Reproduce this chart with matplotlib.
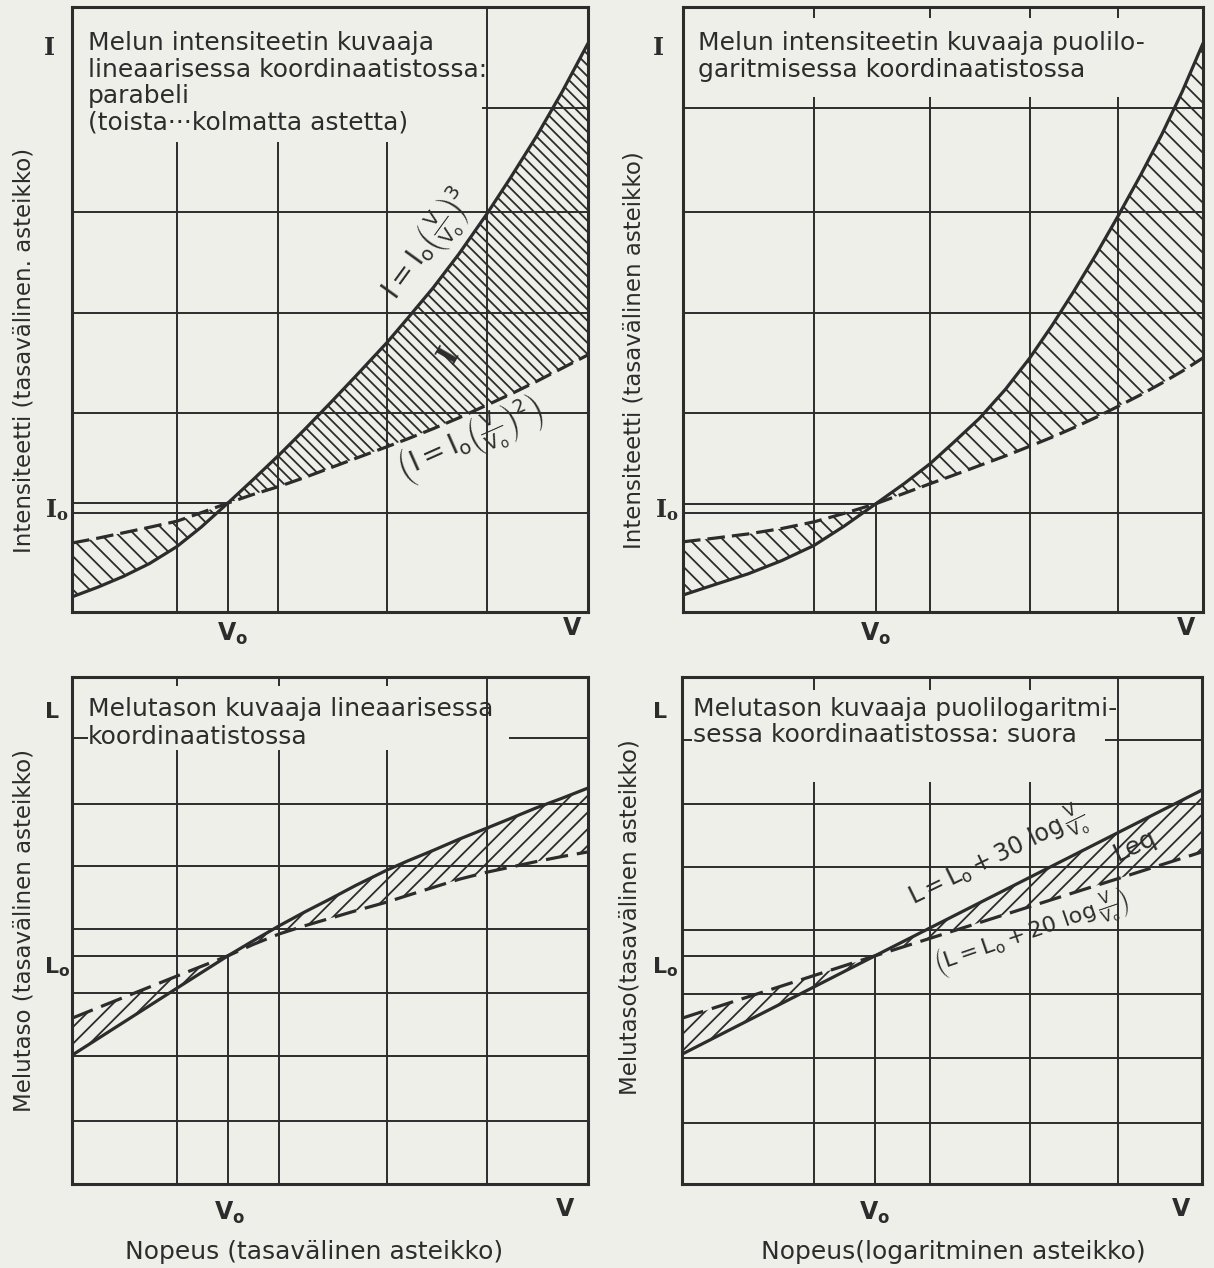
import numpy as np
import matplotlib
matplotlib.use("Agg")
import matplotlib.pyplot as plt

plt.rcParams["font.family"] = ["DejaVu Sans"]
plt.rcParams["mathtext.default"] = "regular"
plt.rcParams["hatch.linewidth"] = 1.3

INK = "#2c2c2c"
PAPER = "#efefea"
W, H = 1214, 1268

# every panel runs 0..10 on both axes
# top-left: intensity on linear axes
tl_x = [0, 0.5, 1, 1.5, 2.03, 2.5, 3.02, 3.5, 4.03, 4.5, 5, 5.5, 6.1, 6.5, 7, 7.5,
        8.04, 8.5, 9, 9.5, 10]
tl_cube = [0.25, 0.41, 0.59, 0.80, 1.08, 1.40, 1.80, 2.18, 2.61, 3.01, 3.45, 3.90,
           4.45, 4.85, 5.36, 5.92, 6.58, 7.18, 7.86, 8.60, 9.40]
tl_square = [1.14, 1.22, 1.31, 1.40, 1.50, 1.64, 1.80, 1.94, 2.08, 2.22, 2.38, 2.54,
             2.73, 2.86, 3.03, 3.21, 3.42, 3.60, 3.81, 4.03, 4.25]

# top-right: intensity, speed on log axis
tr_x = [0, 0.6, 1.25, 1.9, 2.52, 3.1, 3.71, 4.25, 4.75, 5.2, 5.7, 6.2, 6.67, 7.1,
        7.5, 7.95, 8.37, 8.8, 9.2, 9.6, 10]
tr_cube = [0.28, 0.45, 0.63, 0.85, 1.10, 1.42, 1.79, 2.12, 2.45, 2.80, 3.20, 3.68,
           4.20, 4.74, 5.28, 5.92, 6.55, 7.22, 7.88, 8.60, 9.40]
tr_square = [1.16, 1.22, 1.29, 1.38, 1.49, 1.63, 1.79, 1.96, 2.12, 2.26, 2.42, 2.58,
             2.74, 2.89, 3.04, 3.22, 3.40, 3.59, 3.78, 3.98, 4.20]

# bottom-left: level on linear axes
bl_x = [0, 1, 2.03, 3.02, 3.5, 4.01, 4.5, 5, 5.5, 6.1, 6.5, 7, 7.5, 8.04, 8.5, 9, 9.5, 10]
bl_30log = [2.54, 3.19, 3.86, 4.50, 4.79, 5.09, 5.36, 5.62, 5.89, 6.19, 6.37, 6.58,
            6.80, 7.02, 7.21, 7.42, 7.61, 7.81]
bl_20log = [3.27, 3.68, 4.10, 4.50, 4.72, 4.93, 5.09, 5.24, 5.39, 5.56, 5.69, 5.85,
            6.01, 6.15, 6.25, 6.36, 6.46, 6.55]

# bottom-right: level, speed on log axis (straight lines)
br_x = [0, 3.71, 10]
br_30log = [2.56, 4.50, 7.77]
br_20log = [3.27, 4.50, 6.55]

# reference marks (V0, I0 / L0)
tl_ref = (3.02, 1.80)
tr_ref = (3.71, 1.79)
bl_ref = (3.02, 4.50)
br_ref = (3.71, 4.50)

fig = plt.figure(figsize=(W / 100, H / 100), dpi=100)
fig.patch.set_facecolor(PAPER)


def panel(left, top, right, bottom):
    ax = fig.add_axes([left / W, 1 - bottom / H, (right - left) / W, (bottom - top) / H])
    ax.set_xlim(0, 10)
    ax.set_ylim(0, 10)
    ax.set_xticks([])
    ax.set_yticks([])
    ax.set_facecolor(PAPER)
    for s in ax.spines.values():
        s.set_linewidth(2.2)
        s.set_color(INK)
    return ax


def vline(ax, x, y0, y1):
    ax.plot([x, x], [y0, y1], color=INK, lw=1.4, solid_capstyle="butt")


def hline(ax, y, x0, x1):
    ax.plot([x0, x1], [y, y], color=INK, lw=1.4, solid_capstyle="butt")


def curves(ax, x, solid, dashed, ref_x, hatch_left, hatch_right, dash):
    xa = np.asarray(x)
    ax.fill_between(xa, solid, dashed, where=xa <= ref_x, facecolor="none",
                    edgecolor=INK, linewidth=0, hatch=hatch_left)
    ax.fill_between(xa, solid, dashed, where=xa >= ref_x, facecolor="none",
                    edgecolor=INK, linewidth=0, hatch=hatch_right)
    ax.plot(x, solid, color=INK, lw=2.3, solid_capstyle="round")
    ax.plot(x, dashed, color=INK, lw=2.3, linestyle=(0, dash))


def ref_mark(ax, ref):
    hline(ax, ref[1], 0, ref[0])
    vline(ax, ref[0], 0, ref[1])


def title(ax, lines, x, ys, size=18):
    for s, y in zip(lines, ys):
        ax.text(x, y, s, fontsize=size, color=INK, ha="left", va="baseline")


def ftext(px, py, s, **kw):
    kw.setdefault("color", INK)
    kw.setdefault("ha", "center")
    kw.setdefault("va", "center")
    fig.text(px / W, 1 - py / H, s, **kw)


# ---- top-left
ax = panel(72, 7, 588, 612)
for x in [2.03, 3.99, 6.10]:
    vline(ax, x, 0, 7.77)
vline(ax, 8.04, 0, 10)
for y in [1.64, 3.29, 4.94, 6.61]:
    hline(ax, y, 0, 10)
hline(ax, 8.33, 7.95, 10)
ref_mark(ax, tl_ref)
curves(ax, tl_x, tl_cube, tl_square, tl_ref[0], "\\\\", "\\\\\\", (5.5, 2.2))
title(ax, ["Melun intensiteetin kuvaaja", "lineaarisessa koordinaatistossa:",
           "parabeli", "(toista\u00b7\u00b7\u00b7kolmatta astetta)"],
      0.31, [9.29, 8.84, 8.41, 7.97])

# ---- top-right
ax = panel(683, 7, 1203, 612)
for x in [2.52, 4.75, 6.67, 8.37]:
    vline(ax, x, 0, 8.51)
    vline(ax, x, 9.82, 10)
for y in [1.64, 3.29, 4.94, 6.61, 8.33]:
    hline(ax, y, 0, 10)
ref_mark(ax, tr_ref)
curves(ax, tr_x, tr_cube, tr_square, tr_ref[0], "\\\\", "\\\\", (5.5, 2.2))
title(ax, ["Melun intensiteetin kuvaaja puolilo-", "garitmisessa koordinaatistossa"],
      0.28, [9.29, 8.84])

# ---- bottom-left
ax = panel(72, 677, 588, 1184)
for x in [2.03, 4.01, 6.10]:
    vline(ax, x, 0, 8.56)
    vline(ax, x, 9.82, 10)
vline(ax, 8.04, 0, 10)
for y in [1.24, 2.52, 3.77, 5.03, 6.27, 7.50]:
    hline(ax, y, 0, 10)
hline(ax, 8.80, 0, 0.31)
hline(ax, 8.80, 8.47, 10)
ref_mark(ax, bl_ref)
curves(ax, bl_x, bl_30log, bl_20log, bl_ref[0], "//", "//", (7, 2.8))
title(ax, ["Melutason kuvaaja lineaarisessa", "koordinaatistossa"], 0.31, [9.23, 8.68])

# ---- bottom-right
ax = panel(682, 677, 1202, 1184)
for x in [2.54, 4.77, 6.69]:
    vline(ax, x, 0, 7.93)
    vline(ax, x, 9.74, 10)
vline(ax, 8.38, 0, 10)
for y in [1.20, 2.49, 3.75, 5.01, 6.25, 7.50]:
    hline(ax, y, 0, 10)
hline(ax, 8.76, 0, 0.2)
hline(ax, 8.76, 8.13, 10)
ref_mark(ax, br_ref)
curves(ax, br_x, br_30log, br_20log, br_ref[0], "//", "//", (7, 2.8))
title(ax, ["Melutason kuvaaja puolilogaritmi-", "sessa koordinaatistossa: suora"],
      0.21, [9.23, 8.72])

# ---- axis letters
serif = ["DejaVu Serif"]
ftext(49, 48, "I", fontsize=17, family=serif, weight="bold")
ftext(57, 510, r"$I_o$", fontsize=17, family=serif, weight="bold")
ftext(658, 48, "I", fontsize=17, family=serif, weight="bold")
ftext(667, 510, r"$I_o$", fontsize=17, family=serif, weight="bold")
ftext(52, 712, "L", fontsize=16, weight="bold")
ftext(57, 967, r"$L_o$", fontsize=16, weight="bold")
ftext(660, 712, "L", fontsize=16, weight="bold")
ftext(665, 967, r"$L_o$", fontsize=16, weight="bold")
for px, py in [(233, 634), (876, 634), (230, 1213), (875, 1213)]:
    ftext(px, py, r"$V_o$", fontsize=17, weight="bold")
for px, py in [(572, 628), (1186, 628), (565, 1209), (1181, 1209)]:
    ftext(px, py, "V", fontsize=17, weight="bold")

# ---- axis titles
ftext(24, 350, "Intensiteetti (tasavälinen. asteikko)", fontsize=16.5, rotation=90)
ftext(634, 350, "Intensiteetti (tasavälinen asteikko)", fontsize=16.5, rotation=90)
ftext(24, 930, "Melutaso (tasavälinen asteikko)", fontsize=16.5, rotation=90)
ftext(630, 917, "Melutaso(tasavälinen asteikko)", fontsize=16.5, rotation=90)
ftext(314, 1252, "Nopeus (tasavälinen asteikko)", fontsize=18)
ftext(953, 1252, "Nopeus(logaritminen asteikko)", fontsize=18)

# ---- formulas on the curves
ftext(428, 245, r"$I = I_o\left(\frac{V}{V_o}\right)^3$", fontsize=20, rotation=54)
ftext(470, 440, r"$\left(I = I_o\left(\frac{V}{V_o}\right)^2\right)$", fontsize=20, rotation=24)
ftext(449, 355, "I", fontsize=21, family=serif, weight="bold", rotation=60)
ftext(998, 858, r"$L = L_o+30\ \log\frac{V}{V_o}$", fontsize=17, rotation=26)
ftext(1135, 846, "Leq", fontsize=18, rotation=25)
ftext(1032, 934, r"$\left(L = L_o+20\ \log\frac{V}{V_o}\right)$", fontsize=16, rotation=19)

fig.savefig("out.png", dpi=100, facecolor=PAPER)
